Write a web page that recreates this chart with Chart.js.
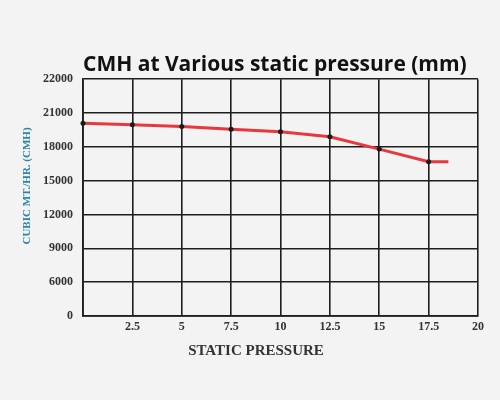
<!DOCTYPE html>
<html>
<head>
<meta charset="utf-8">
<script src="https://cdn.jsdelivr.net/npm/chart.js@4"></script>
<style>
  html, body { margin: 0; padding: 0; background: #f3f3f3; }
  #wrap { width: 500px; height: 400px; }
</style>
</head>
<body>
<div id="wrap"><canvas id="cmhChart"></canvas></div>
<script>
// --- dados ---
const pressure = [0, 2.5, 5, 7.5, 10, 12.5, 15, 17.5, 18.5];
const cmh = [20100, 19950, 19800, 19560, 19330, 18890, 17800, 16680, 16680];
const yTickValues = [0, 6000, 9000, 12000, 15000, 18000, 21000, 22000];
const xTickLabels = ['', '2.5', '5', '7.5', '10', '12.5', '15', '17.5', '20'];

// o eixo Y é desigual: cada rótulo ocupa um degrau igual
function toStep(v) {
    for (let i = 0; i < yTickValues.length - 1; i++) {
        const a = yTickValues[i], b = yTickValues[i + 1];
        if (v >= a && v <= b) return i + (v - a) / (b - a);
    }
    return yTickValues.length - 1;
}

const points = pressure.map((p, i) => ({ x: p, y: toStep(cmh[i]) }));
const radii = pressure.map((p, i) => (i === pressure.length - 1 ? 0 : 2.5));

const serif = '"Liberation Serif", "DejaVu Serif", serif';
const serifBold = { family: serif, weight: 'bold', size: 12 };

// títulos dos eixos desenhados à parte (não ficam centrados no gráfico)
const axisTitles = {
    id: 'axisTitles',
    afterDraw(chart) {
        const ctx = chart.ctx;
        ctx.save();
        ctx.textAlign = 'center';
        ctx.textBaseline = 'middle';
        ctx.fillStyle = '#333';
        ctx.font = 'bold 15px ' + serif;
        ctx.fillText('STATIC PRESSURE', 256, 351);
        ctx.translate(27, 186);
        ctx.rotate(-Math.PI / 2);
        ctx.fillStyle = '#2f84a8';
        ctx.font = 'bold 11px ' + serif;
        ctx.fillText('CUBIC MT./HR. (CMH)', 0, 0);
        ctx.restore();
    }
};

new Chart(document.getElementById('cmhChart'), {
    type: 'line',
    data: {
        datasets: [{
            data: points,
            borderColor: '#e8383d',
            borderWidth: 3,
            pointRadius: radii,
            pointBackgroundColor: '#1a1a1a',
            pointBorderWidth: 0,
            tension: 0,
            clip: false
        }]
    },
    plugins: [axisTitles],
    options: {
        responsive: true,
        maintainAspectRatio: false,
        animation: false,
        layout: { padding: { left: 0, right: 22, top: 0, bottom: 60 } },
        plugins: {
            legend: { display: false },
            tooltip: { enabled: false },
            title: {
                display: true,
                fullSize: false,
                align: 'start',
                text: 'CMH at Various static pressure (mm)',
                color: '#111',
                font: { family: '"Open Sans", Lato, sans-serif', weight: 'bold', size: 21 },
                padding: { top: 52, bottom: 2 }
            }
        },
        scales: {
            x: {
                type: 'linear',
                min: 0,
                max: 20,
                ticks: {
                    stepSize: 2.5,
                    color: '#333',
                    font: serifBold,
                    padding: 4,
                    maxRotation: 0,
                    callback: (v) => xTickLabels[Math.round(v / 2.5)]
                },
                grid: { color: '#1e1e1e', lineWidth: 1.6, drawTicks: false },
                border: { color: '#1e1e1e', width: 1.8 },
                afterFit: (scale) => { scale.height = 24; }
            },
            y: {
                type: 'linear',
                min: 0,
                max: yTickValues.length - 1,
                ticks: {
                    stepSize: 1,
                    color: '#333',
                    font: serifBold,
                    padding: 10,
                    callback: (v) => yTickValues[v]
                },
                grid: { color: '#1e1e1e', lineWidth: 1.6, drawTicks: false },
                border: { color: '#1e1e1e', width: 1.8 },
                afterFit: (scale) => { scale.width = 83; }
            }
        }
    }
});
</script>
</body>
</html>
